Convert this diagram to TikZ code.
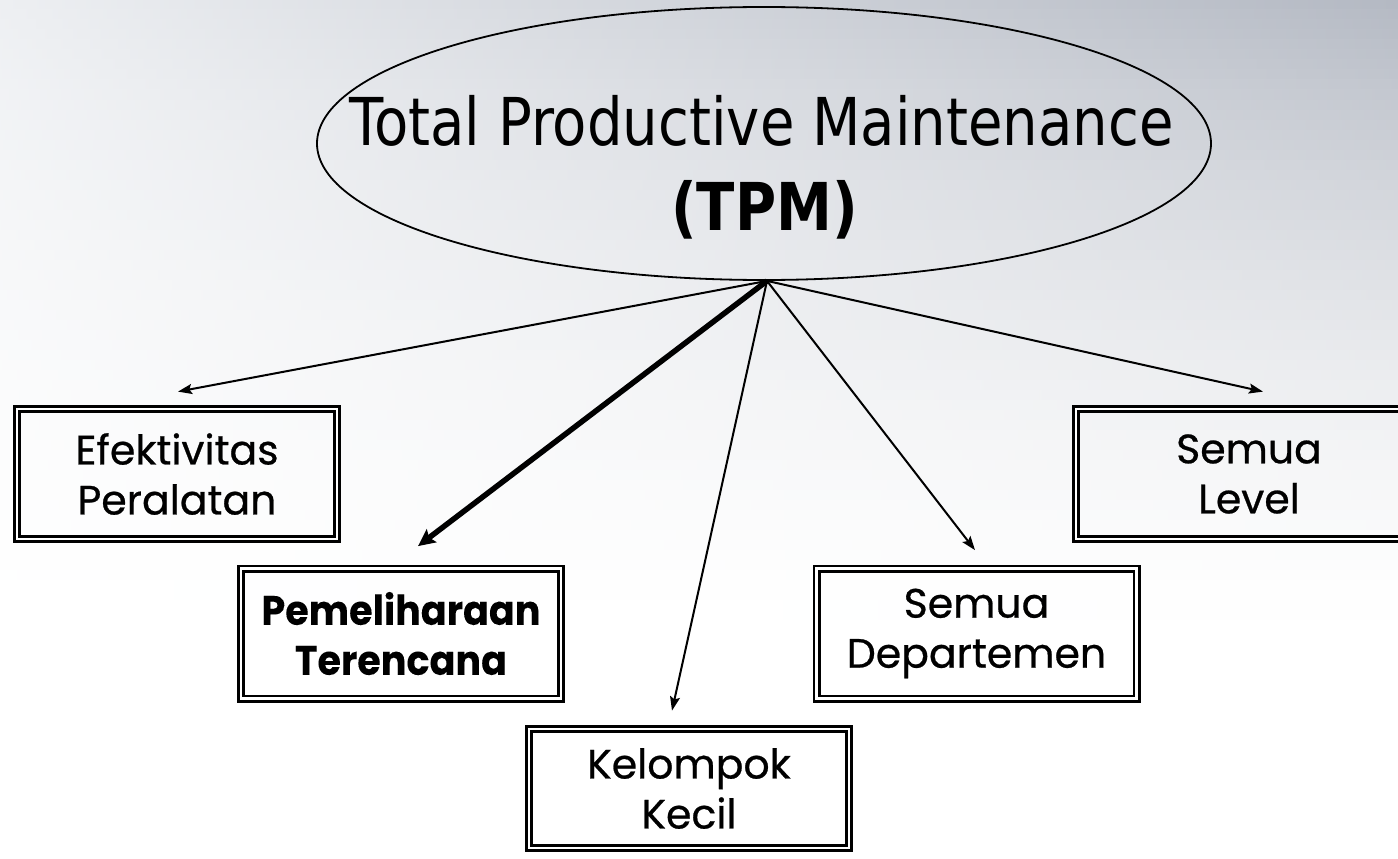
\documentclass[tikz,border=0pt]{standalone}
\usepackage{fontspec}
\setmainfont{Poppins}[FakeBold=0.6, BoldFeatures={FakeStretch=0.93, FakeBold=0.01}]
\newfontfamily\titlefont[FakeStretch=0.85]{DejaVu Sans}
\usetikzlibrary{arrows.meta,shapes.geometric}
\definecolor{bgA}{HTML}{EDEFF2}
\definecolor{bgB}{HTML}{E3E6EA}
\definecolor{bgC}{HTML}{B4B9C3}
\tikzset{
  box/.style={draw=black, double=white, line width=2.75pt, double distance=2.5pt,
    minimum width=320pt, minimum height=130pt, inner sep=0pt, align=center,
    font=\fontsize{41}{50}\selectfont},
  conn/.style={line width=2pt, -{Stealth[length=14pt,width=10pt,inset=2.5pt]}},
  thickconn/.style={line width=5.5pt, -{Stealth[length=17pt,width=16pt,inset=3pt]}},
  titletext/.style={anchor=base, inner sep=0pt, font=\titlefont\fontsize{66}{80}\selectfont}
}
\begin{document}
\begin{tikzpicture}[x=1pt,y=-1pt]
\useasboundingbox (0,0) rectangle (1398,859);
\clip (0,0) rectangle (1398,859);
% background
\fill[white] (0,0) rectangle (1398,859);
\foreach \i in {0,...,63}{
  \pgfmathtruncatemacro{\p}{100*(1-\i/64)^1.5}
  \fill[left color=bgA!\p!white, middle color=bgB!\p!white, right color=bgC!\p!white]
    (0,\i*10) rectangle (1398,\i*10+10.6);
}

% main ellipse
\node (tpm) [draw, ellipse, line width=1.8pt, minimum width=894pt, minimum height=273pt, inner sep=0pt] at (764,143.5) {};
\node (t1) [titletext] at (761.5,145) {Total Productive Maintenance};
\node (t2) [titletext] at (764.5,230) {\textbf{(TPM)}};

% boxes
\node (eff) [box] at (177,474) {Efektivitas\\Peralatan};
\node (pem) [box] at (401,633.5) {\textbf{Pemeliharaan}\\\textbf{Terencana}};
\node (kel) [box, minimum height=119pt] at (689,788.5) {Kelompok\\Kecil};
\node (dep) [box] at (976.5,633.5) {Semua\\Departemen};
\node (lev) [box, minimum width=346pt] at (1249,474) {Semua\\Level};

% connectors
\draw[conn] ([xshift=3pt]tpm.south) -- ([xshift=1pt,yshift=16pt]eff.north);
\draw[thickconn] ([xshift=3pt]tpm.south) -- ([xshift=17pt,yshift=21pt]pem.north);
\draw[conn] ([xshift=3pt]tpm.south) -- ([xshift=-17pt,yshift=17pt]kel.north);
\draw[conn] ([xshift=3pt]tpm.south) -- ([xshift=-1.5pt,yshift=17pt]dep.north);
\draw[conn] ([xshift=3pt]tpm.south) -- ([xshift=14pt,yshift=16pt]lev.north);
\end{tikzpicture}
\end{document}
